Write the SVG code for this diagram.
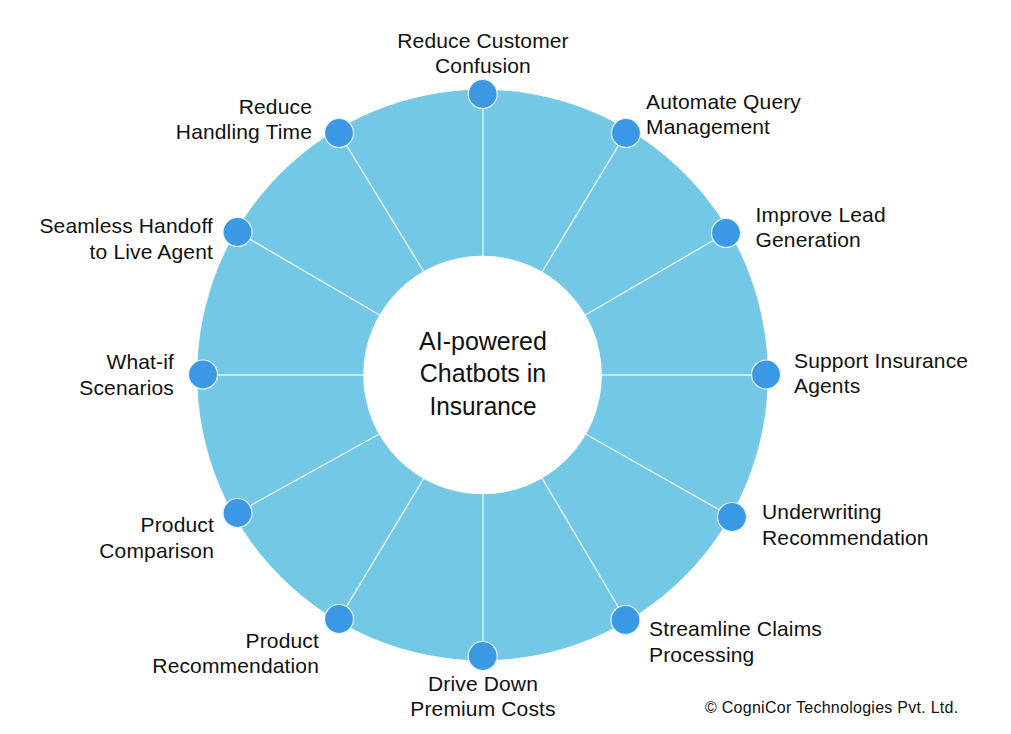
<svg xmlns="http://www.w3.org/2000/svg" width="1011" height="734" viewBox="0 0 1011 734">
<style>
text{font-family:"Liberation Sans",Arial,sans-serif;font-size:21px;letter-spacing:.15px;fill:#111}
.e{text-anchor:end}.m{text-anchor:middle}
.c{font-size:25px;letter-spacing:0}
.d{fill:#3b98e4;stroke:#e4f3fa;stroke-width:1.2}
#spokes line{stroke:#e6f5fb;stroke-width:1.4}
</style>
<rect width="1011" height="734" fill="#fff"/>
<circle id="ring" cx="482.500" cy="375" r="285.300" fill="#73c8e6"/>
<g id="spokes">
<line x1="483" y1="260" x2="483" y2="94"/>
<line x1="539" y1="277" x2="626" y2="133"/>
<line x1="582" y1="317" x2="726" y2="233"/>
<line x1="598" y1="375" x2="766" y2="375"/>
<line x1="582" y1="432" x2="732" y2="517"/>
<line x1="539" y1="473" x2="626" y2="620"/>
<line x1="483" y1="490" x2="483" y2="656"/>
<line x1="427" y1="473" x2="339" y2="619"/>
<line x1="383" y1="432" x2="237" y2="513"/>
<line x1="367" y1="375" x2="203" y2="375"/>
<line x1="383" y1="317" x2="237.500" y2="232"/>
<line x1="427" y1="277" x2="339" y2="133"/>
</g>
<circle id="hub" cx="482.500" cy="375" r="119.300" fill="#fff"/>
<g id="center"><text class="c m" x="483" y="350">AI-powered</text><text class="c m" x="483" y="382">Chatbots in</text><text class="c m" x="483" y="415" textLength="107" lengthAdjust="spacingAndGlyphs">Insurance</text></g>
<g id="n1"><circle class="d" cx="482.700" cy="94" r="14.500"/><text class="m" x="483" y="48">Reduce Customer</text><text class="m" x="483" y="73">Confusion</text></g>
<g id="n2"><circle class="d" cx="626" cy="133" r="14.500"/><text x="646" y="109">Automate Query</text><text x="646" y="134">Management</text></g>
<g id="n3"><circle class="d" cx="726" cy="233" r="14.500"/><text x="755.500" y="222">Improve Lead</text><text x="755.500" y="247">Generation</text></g>
<g id="n4"><circle class="d" cx="766" cy="374.500" r="14.500"/><text x="794" y="368">Support Insurance</text><text x="794" y="393">Agents</text></g>
<g id="n5"><circle class="d" cx="732" cy="517" r="14.500"/><text x="762" y="519">Underwriting</text><text x="762" y="544.500">Recommendation</text></g>
<g id="n6"><circle class="d" cx="625.500" cy="620" r="14.500"/><text x="649" y="636">Streamline Claims</text><text x="649" y="662">Processing</text></g>
<g id="n7"><circle class="d" cx="482.700" cy="656" r="14.500"/><text class="m" x="483" y="691">Drive Down</text><text class="m" x="483" y="716">Premium Costs</text></g>
<g id="n8"><circle class="d" cx="339" cy="619" r="14.500"/><text class="e" x="319" y="648">Product</text><text class="e" x="319" y="673">Recommendation</text></g>
<g id="n9"><circle class="d" cx="237.500" cy="513" r="14.500"/><text class="e" x="214" y="532">Product</text><text class="e" x="214" y="558">Comparison</text></g>
<g id="n10"><circle class="d" cx="203" cy="374.500" r="14.500"/><text class="e" x="174" y="369">What-if</text><text class="e" x="174" y="395">Scenarios</text></g>
<g id="n11"><circle class="d" cx="237.500" cy="232" r="14.500"/><text class="e" x="213" y="233">Seamless Handoff</text><text class="e" x="213" y="259">to Live Agent</text></g>
<g id="n12"><circle class="d" cx="339" cy="133" r="14.500"/><text class="e" x="312" y="114">Reduce</text><text class="e" x="312" y="139">Handling Time</text></g>
<text x="705" y="713" style="font-size:16px;letter-spacing:.27px">© CogniCor Technologies Pvt. Ltd.</text>
</svg>
